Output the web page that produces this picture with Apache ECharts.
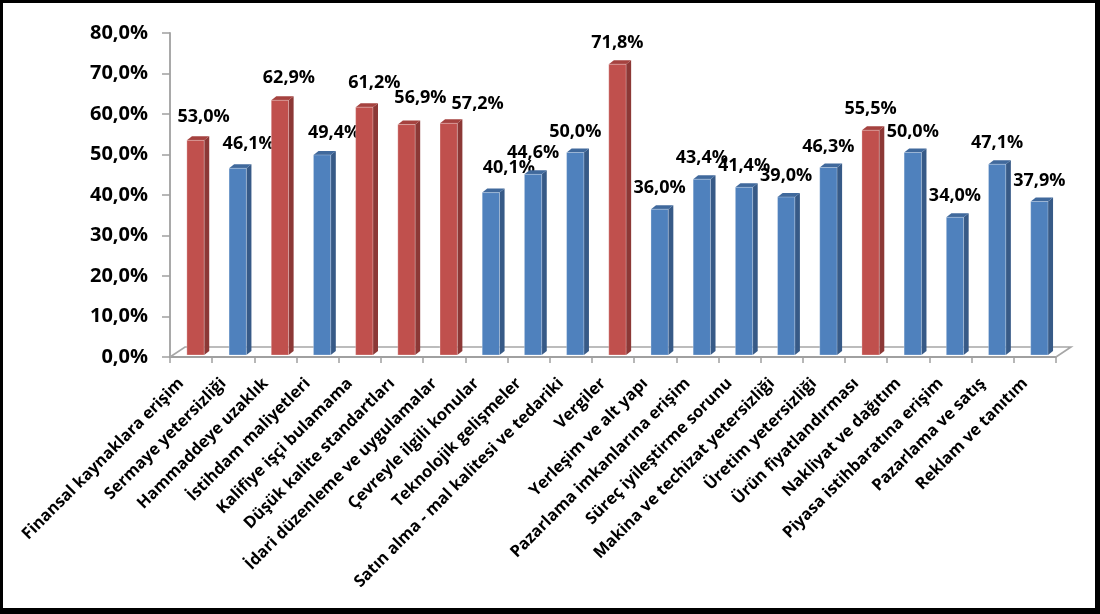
<!DOCTYPE html>
<html>
<head>
<meta charset="utf-8">
<script src="https://cdn.jsdelivr.net/npm/echarts@6/dist/echarts.min.js"></script>
<style>
  html, body { margin: 0; padding: 0; background: #fff; }
  #chart { position: absolute; left: 0; top: 0; width: 1100px; height: 614px; }
  #frame { position: absolute; left: 0; top: 0; width: 1100px; height: 614px; box-sizing: border-box;
           border-style: solid; border-color: #000; border-width: 3px 5px 6px 3px; pointer-events: none; }
</style>
</head>
<body>
<div id="chart"></div>
<div id="frame"></div>
<script>
// ---- data ----
const categories = [
  'Finansal kaynaklara erişim',
  'Sermaye yetersizliği',
  'Hammaddeye uzaklık',
  'İstihdam maliyetleri',
  'Kalifiye işçi bulamama',
  'Düşük kalite standartları',
  'İdari düzenleme ve uygulamalar',
  'Çevreyle ilgili konular',
  'Teknolojik gelişmeler',
  'Satın alma - mal kalitesi ve tedariki',
  'Vergiler',
  'Yerleşim ve alt yapı',
  'Pazarlama imkanlarına erişim',
  'Süreç iyileştirme sorunu',
  'Makina ve techizat yetersizliği',
  'Üretim yetersizliği',
  'Ürün fiyatlandırması',
  'Nakliyat ve dağıtım',
  'Piyasa istihbaratına erişim',
  'Pazarlama ve satış',
  'Reklam ve tanıtım'
];
const values = [53.0, 46.1, 62.9, 49.4, 61.2, 56.9, 57.2, 40.1, 44.6, 50.0, 71.8,
                36.0, 43.4, 41.4, 39.0, 46.3, 55.5, 50.0, 34.0, 47.1, 37.9];
const highlightedCategories = [
  'Finansal kaynaklara erişim', 'Hammaddeye uzaklık', 'Kalifiye işçi bulamama',
  'Düşük kalite standartları', 'İdari düzenleme ve uygulamalar', 'Vergiler', 'Ürün fiyatlandırması'
];
const yTicks = [0, 10, 20, 30, 40, 50, 60, 70, 80];

// ---- style ----
const FONT = '"Open Sans"';
const RED = { front: '#C0504D', side: '#8C3836', top: '#A5423F' };
const BLUE = { front: '#4F81BD', side: '#375A87', top: '#40699C' };
// small label nudges (dx, dy) relative to default position above bar
const labelNudge = [[8,-2],[11,-3],[9,-1],[12,-1],[10,-3],[14,-6],[29,2],[18,-4]];

function fmt(v) { return v.toFixed(1).replace('.', ',') + '%'; }

const chart = echarts.init(document.getElementById('chart'), null, { renderer: 'canvas' });

function renderBar(params, api) {
  const i = api.value(0), v = api.value(1);
  const band = api.size([1, 0])[0];
  const topPt = api.coord([i, v]);
  const basePt = api.coord([i, 0]);
  const w = band * 0.41;
  const dx = band * 0.12, dy = band * 0.095;
  const sx = band * 0.105, sy = -2;
  const x0 = topPt[0] - w / 2 + sx, x1 = x0 + w;
  const yT = topPt[1] + sy, yB = basePt[1] + sy;
  const c = highlightedCategories.indexOf(categories[i]) >= 0 ? RED : BLUE;
  const nudge = labelNudge[i] || [0, 0];
  return {
    type: 'group',
    children: [
      { type: 'polygon', shape: { points: [[x1, yT], [x1 + dx, yT - dy], [x1 + dx, yB - dy], [x1, yB]] },
        style: { fill: c.side } },
      { type: 'polygon', shape: { points: [[x0, yT], [x0 + dx, yT - dy], [x1 + dx, yT - dy], [x1, yT]] },
        style: { fill: c.top } },
      { type: 'rect', shape: { x: x0, y: yT, width: w, height: yB - yT },
        style: { fill: c.front, stroke: 'rgba(255,255,255,0.35)', lineWidth: 0.8 } },
      { type: 'text', x: (x0 + x1) / 2 + nudge[0], y: yT - 21 + nudge[1],
        style: { text: fmt(v), align: 'center', verticalAlign: 'middle',
                 fontFamily: FONT, fontWeight: 'bold', fontSize: 18, fill: '#000' } }
    ]
  };
}

function renderFloor(params, api) {
  const cs = params.coordSys;
  const xl = cs.x, xr = cs.x + cs.width, yb = cs.y + cs.height;
  const fx = 15, fy = 10;
  return {
    type: 'polyline',
    shape: { points: [[xl, yb], [xl + fx, yb - fy], [xr + fx, yb - fy], [xr, yb]] },
    style: { stroke: '#A6A6A6', lineWidth: 1.6, fill: null }
  };
}

const option = {
  animation: false,
  backgroundColor: '#fff',
  grid: { left: 170, right: 44, top: 33, bottom: 257, containLabel: false },
  xAxis: {
    type: 'category',
    data: categories,
    boundaryGap: true,
    axisLine: { show: true, lineStyle: { color: '#A0A0A0', width: 1.8 } },
    axisTick: { show: true, length: 6, lineStyle: { color: '#A0A0A0', width: 1.5 } },
    axisLabel: {
      interval: 0, rotate: 45, margin: 14, padding: [0, 14, 0, 0],
      fontFamily: FONT, fontWeight: 'bold', fontSize: 16.4, color: '#000'
    },
    splitLine: { show: false }
  },
  yAxis: {
    type: 'value',
    min: yTicks[0], max: yTicks[yTicks.length - 1], interval: 10,
    axisLine: { show: true, lineStyle: { color: '#A0A0A0', width: 1.8 } },
    axisTick: { show: true, length: 8, lineStyle: { color: '#A0A0A0', width: 1.5 } },
    axisLabel: { margin: 22, formatter: fmt, fontFamily: FONT, fontWeight: 'bold', fontSize: 20, color: '#000' },
    splitLine: { show: false }
  },
  series: [
    { type: 'custom', name: 'floor', renderItem: renderFloor, data: [[0, 0]], z: 1, silent: true },
    { type: 'custom', name: 'bars', renderItem: renderBar, z: 2,
      data: values.map((v, i) => [i, v]), encode: { x: 0, y: 1 } }
  ]
};
chart.setOption(option);
</script>
</body>
</html>
